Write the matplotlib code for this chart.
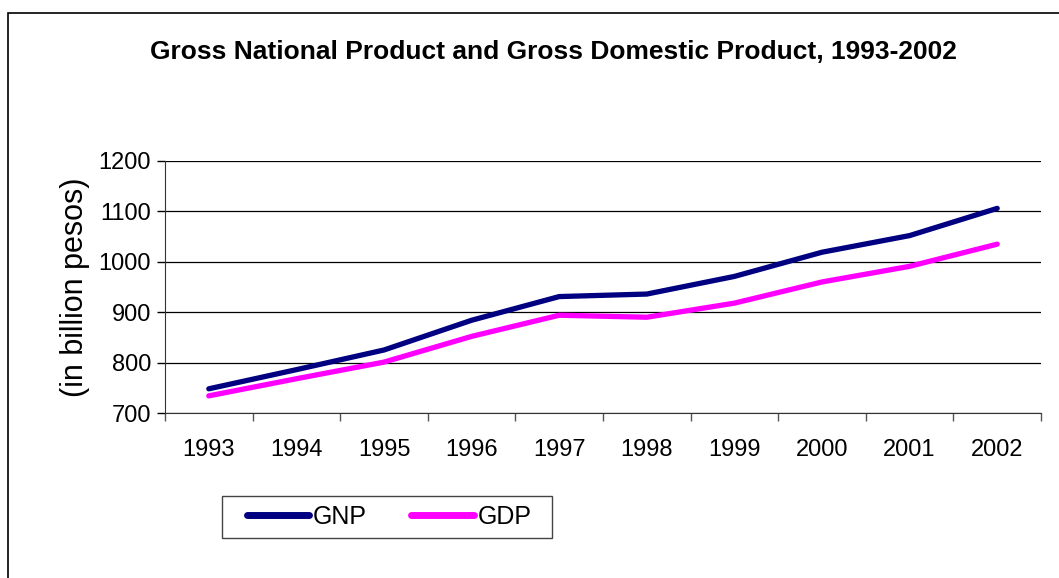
import matplotlib
matplotlib.use("Agg")
import matplotlib.pyplot as plt
from matplotlib.patches import Rectangle

years = ["1993", "1994", "1995", "1996", "1997", "1998", "1999", "2000", "2001", "2002"]
gnp = [748, 786, 825, 884, 931, 936, 971, 1019, 1052, 1106]
gdp = [734, 768, 801, 852, 894, 890, 918, 960, 991, 1035]

plt.rcParams['font.family'] = ['Liberation Sans', 'DejaVu Sans']

W, H = 1059, 578
fig = plt.figure(figsize=(W / 100, H / 100), dpi=100)
fig.patches.append(Rectangle((8/W, -0.1), 1.2, (H-13)/H + 0.1, transform=fig.transFigure,
                             fill=False, edgecolor='black', linewidth=1.2))

ax = fig.add_axes([165/W, (H-413)/H, 876/W, 252/H])
x = list(range(len(years)))
ax.plot(x, gnp, color='#000080', linewidth=3.8, solid_capstyle='round', label='GNP', zorder=3)
ax.plot(x, gdp, color='#FF00FF', linewidth=3.8, solid_capstyle='round', label='GDP', zorder=3)

ax.set_xlim(-0.5, len(years) - 0.5)
ax.set_ylim(700, 1200)
ax.set_yticks([700, 800, 900, 1000, 1100, 1200])
ax.tick_params(axis='y', labelsize=17, length=6, width=1, direction='out', pad=4)
ax.set_xticks([i + 0.5 for i in range(-1, len(years))], minor=False)
ax.set_xticklabels([])
ax.set_xticks(x, minor=True)
ax.set_xticklabels(years, minor=True)
ax.tick_params(axis='x', which='major', length=6, width=1, direction='out', color='#555555')
ax.tick_params(axis='x', which='minor', length=0, labelsize=17, pad=19)
ax.grid(axis='y', color='black', linewidth=0.9)
for s in ['top', 'right']:
    ax.spines[s].set_visible(False)
ax.spines['left'].set_color('#333333')
ax.spines['bottom'].set_color('#333333')
ax.set_axisbelow(True)

ax.set_ylabel('(in billion pesos)', fontsize=22, labelpad=6)

fig.text(553/W, 1 - 52/H, 'Gross National Product and Gross Domestic Product, 1993-2002',
         ha='center', va='center', fontsize=19, fontweight='bold')

leg = fig.legend(loc='center', bbox_to_anchor=(389/W, 1 - 517/H), ncol=2, fontsize=18,
                 frameon=False, handlelength=2.5,
                 handletextpad=0.16, columnspacing=1.76, borderpad=0.3)
for h in leg.get_lines():
    h.set_linewidth(5)
fig.patches.append(Rectangle((222/W, 1 - 538/H), 330/W, 42/H, transform=fig.transFigure,
                             fill=False, edgecolor='#444444', linewidth=1.0))

fig.savefig('out.png', dpi=100)
